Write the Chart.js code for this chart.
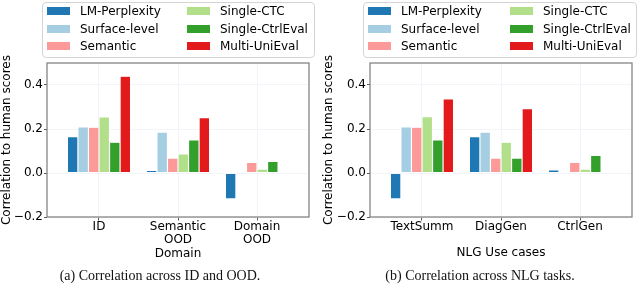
<!DOCTYPE html>
<html>
<head>
<meta charset="utf-8">
<script src="https://cdn.jsdelivr.net/npm/chart.js@4.4.1/dist/chart.umd.min.js"></script>
<style>
  body { margin: 0; background: #fff; }
  #wrap { position: relative; width: 640px; height: 284px; overflow: hidden; font-family: "DejaVu Sans", sans-serif; }
  .panel { position: absolute; top: 0; width: 320px; height: 284px; }
  .panel canvas { position: absolute; left: 0; top: 0; }
  .legend { position: absolute; top: 2px; height: 56px; border: 1px solid #d4d4d4; border-radius: 4px; box-sizing: border-box; background: #fff; }
  .item { position: absolute; height: 18px; line-height: 18px; font-size: 12px; color: #000; white-space: nowrap; }
  .item .sw { position: absolute; left: 0; top: 5px; width: 23px; height: 8px; }
  .item .tx { position: absolute; left: 33px; top: 0; }
  .caption { position: absolute; left: 0; width: 320px; top: 268px; text-align: center; font-family: "Liberation Serif", "Times New Roman", serif; font-size: 14px; line-height: 16px; color: #111; }
</style>
</head>
<body>
<div id="wrap">
  <div class="panel" id="pa" style="left:0">
    <canvas id="ca" width="320" height="284"></canvas>
    <div class="caption">(a) Correlation across ID and OOD.</div>
  </div>
  <div class="panel" id="pb" style="left:320px">
    <canvas id="cb" width="320" height="284"></canvas>
    <div class="caption">(b) Correlation across NLG tasks.</div>
  </div>
</div>
<script>
const seriesNames = ['LM-Perplexity', 'Surface-level', 'Semantic', 'Single-CTC', 'Single-CtrlEval', 'Multi-UniEval'];
const seriesColors = ['#1f78b4', '#a6cee3', '#fb9a99', '#b2df8a', '#33a02c', '#e31a1c'];

// (a) ID vs OOD
const oodCategories = [['ID'], ['Semantic', 'OOD', 'Domain'], ['Domain', 'OOD']];
const oodLM       = [0.165, 0.012, -0.118];
const oodSurface  = [0.210, 0.186, null];
const oodSemantic = [0.208, 0.068, 0.048];
const oodCTC      = [0.255, 0.087, 0.018];
const oodCtrlEval = [0.140, 0.150, 0.053];
const oodUniEval  = [0.440, 0.252, null];

// (b) NLG tasks
const taskCategories = ['TextSumm', 'DiagGen', 'CtrlGen'];
const taskLM       = [-0.118, 0.165, 0.014];
const taskSurface  = [0.210, 0.186, null];
const taskSemantic = [0.208, 0.068, 0.048];
const taskCTC      = [0.256, 0.140, 0.018];
const taskCtrlEval = [0.150, 0.068, 0.080];
const taskUniEval  = [0.337, 0.293, null];

const yTicks = [-0.2, 0.0, 0.2, 0.4];
const yMin = -0.2, yMax = 0.5;

const framePlugin = {
  id: 'frame',
  afterDatasetsDraw(chart) {
    const { ctx, chartArea: a } = chart;
    ctx.save();
    ctx.strokeStyle = '#808080';
    ctx.lineWidth = 1.25;
    ctx.strokeRect(a.left, a.top, a.right - a.left, a.bottom - a.top);
    ctx.restore();
  }
};

function buildLegend(panel, boxLeft, boxWidth, col1, col2) {
  const box = document.createElement('div');
  box.className = 'legend';
  box.style.left = boxLeft + 'px';
  box.style.width = boxWidth + 'px';
  panel.appendChild(box);
  const rowsY = [2, 20, 37];
  seriesNames.forEach((name, i) => {
    const it = document.createElement('div');
    it.className = 'item';
    it.style.left = (i < 3 ? col1 : col2) + 'px';
    it.style.top = rowsY[i % 3] + 'px';
    it.innerHTML = '<div class="sw" style="background:' + seriesColors[i] + '"></div><span class="tx">' + name + '</span>';
    panel.appendChild(it);
  });
}

function makeChart(id, categories, values, opt) {
  const datasets = seriesNames.map((name, i) => ({
    label: name,
    data: values[i],
    backgroundColor: seriesColors[i],
    borderColor: '#ffffff',
    borderWidth: 0.6,
    borderSkipped: false,
    categoryPercentage: 0.8,
    barPercentage: 1.0
  }));
  return new Chart(document.getElementById(id), {
    type: 'bar',
    data: { labels: categories.map((c, i) => i), datasets },
    options: {
      responsive: false,
      devicePixelRatio: 1,
      animation: false,
      layout: { padding: { top: 63, right: opt.padRight, bottom: 0, left: 0 } },
      plugins: { legend: { display: false }, tooltip: { enabled: false } },
      scales: {
        x: {
          type: 'linear',
          min: -0.658,
          max: 2.658,
          offset: false,
          afterBuildTicks: s => { s.ticks = categories.map((c, i) => ({ value: i })); },
          afterFit: s => { s.height = 67; },
          grid: { offset: false, color: '#edf2f8', lineWidth: 0.8, tickColor: '#333', tickLength: 3.5 },
          border: { display: false },
          ticks: {
            color: '#000',
            padding: 0,
            maxRotation: 0,
            autoSkip: false,
            font: { family: 'DejaVu Sans', size: 12, lineHeight: 1.1 },
            callback: v => categories[v]
          },
          title: {
            display: !!opt.xTitle,
            text: opt.xTitle || '',
            color: '#000',
            font: { family: 'DejaVu Sans', size: 12 },
            padding: { top: 0, bottom: 24 }
          }
        },
        y: {
          min: yMin,
          max: yMax,
          afterBuildTicks: s => { s.ticks = yTicks.map(v => ({ value: v })); },
          afterFit: s => { s.width = opt.yWidth; },
          grid: { color: '#edf2f8', lineWidth: 0.8, tickColor: '#333', tickLength: 3 },
          border: { display: false },
          ticks: {
            color: '#000',
            padding: 1,
            font: { family: 'DejaVu Sans', size: 12 },
            callback: v => v.toFixed(1).replace('-', '\u2212')
          },
          title: {
            display: true,
            text: 'Correlation to human scores',
            color: '#000',
            font: { family: 'DejaVu Sans', size: 12 },
            padding: { top: opt.yTitlePad, bottom: 0 }
          }
        }
      }
    },
    plugins: [framePlugin]
  });
}

buildLegend(document.getElementById('pa'), 42, 273, 47, 187);
buildLegend(document.getElementById('pb'), 43, 274, 48, 190);

makeChart('ca', oodCategories,
  [oodLM, oodSurface, oodSemantic, oodCTC, oodCtrlEval, oodUniEval],
  { yWidth: 47, padRight: 11, yTitlePad: 0, xTitle: null });

makeChart('cb', taskCategories,
  [taskLM, taskSurface, taskSemantic, taskCTC, taskCtrlEval, taskUniEval],
  { yWidth: 50, padRight: 8, yTitlePad: 2, xTitle: 'NLG Use cases' });
</script>
</body>
</html>
